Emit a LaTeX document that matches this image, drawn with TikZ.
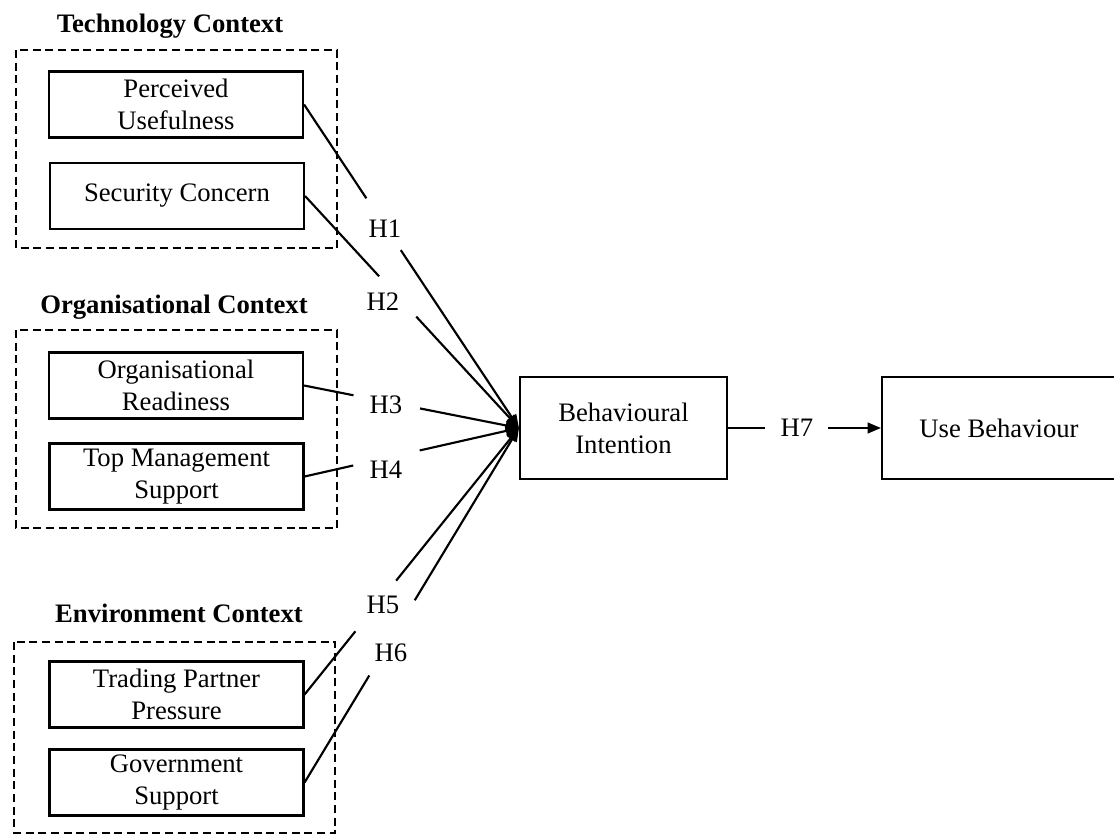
\documentclass[tikz,border=0pt]{standalone}
\usepackage{fontspec}
\setmainfont{Liberation Serif}
\usetikzlibrary{arrows.meta,calc}
\begin{document}
\begin{tikzpicture}[x=0.75pt,y=-0.75pt,
  every node/.style={font=\fontsize{20}{24}\selectfont},
  box/.style={draw, line width=1.6pt, minimum width=190.5pt, minimum height=49.5pt, align=center, inner sep=0pt},
  bigbox/.style={draw, line width=1.6pt, minimum height=76.5pt, align=center, inner sep=0pt},
  group/.style={draw, line width=1.5pt, dash pattern=on 6pt off 3.5pt},
  grouptitle/.style={font=\fontsize{20}{24}\selectfont\bfseries, anchor=base, inner sep=0pt},
  hyp/.style={inner sep=0pt},
  link/.style={line width=1.6pt},
  arr/.style={line width=1.6pt, -{Triangle[length=10pt,width=8pt]}},
]
\useasboundingbox (0,0) rectangle (1114,839);

% group frames
\draw[group] (16,50) rectangle (337,248);
\draw[group] (16,330) rectangle (337,528);
\draw[group] (14,642) rectangle (335,833);

% group titles
\node[grouptitle] (tt) at (170,32) {Technology Context};
\node[grouptitle] (ot) at (174,313) {Organisational Context};
\node[grouptitle] (et) at (179,622) {Environment Context};

% construct boxes
\node[box] (pu)  at (176,104.5) {Perceived\\Usefulness};
\node[box] (sc)  at (177,196)   {Security Concern};
\node[box] (or)  at (176,385.5) {Organisational\\Readiness};
\node[box] (tm)  at (176.5,476.5) {Top Management\\Support};
\node[box] (tpp) at (176.5,694.5) {Trading Partner\\Pressure};
\node[box] (gs)  at (176.5,782.5) {Government\\Support};

\node[bigbox, minimum width=155.25pt] (bi) at (623.5,428) {Behavioural\\Intention};
\node[bigbox, minimum width=175.5pt] (ub) at (999,428) {Use Behaviour};

\coordinate (conv) at (bi.west);

% hypothesis labels
\node[hyp] (h1) at (385,228.5) {H1};
\node[hyp] (h2) at (383,302) {H2};
\node[hyp] (h3) at (386,405) {H3};
\node[hyp] (h4) at (386,470) {H4};
\node[hyp] (h5) at (383,605) {H5};
\node[hyp] (h6) at (391,653) {H6};
\node[hyp] (h7) at (797,428) {H7};

% gap end points
\coordinate (h1a) at ($(pu.east)!0.29!(conv)$);
\coordinate (h1b) at ($(pu.east)!0.45!(conv)$);
\coordinate (h2a) at ($(sc.east)!0.346!(conv)$);
\coordinate (h2b) at ($(sc.east)!0.52!(conv)$);
\coordinate (h3a) at ($(or.east)!0.23!(conv)$);
\coordinate (h3b) at ($(or.east)!0.54!(conv)$);
\coordinate (h4a) at ($(tm.east)!0.227!(conv)$);
\coordinate (h4b) at ($(tm.east)!0.537!(conv)$);
\coordinate (h5a) at ($(tpp.east)!0.237!(conv)$);
\coordinate (h5b) at ($(tpp.east)!0.427!(conv)$);
\coordinate (h6a) at ($(gs.east)!0.302!(conv)$);
\coordinate (h6b) at ($(gs.east)!0.514!(conv)$);
\coordinate (h7a) at (765,428);
\coordinate (h7b) at (828,428);

% connectors
\draw[link] (pu.east) -- (h1a);  \draw[arr] (h1b) -- (conv);
\draw[link] (sc.east) -- (h2a);  \draw[arr] (h2b) -- (conv);
\draw[link] (or.east) -- (h3a);  \draw[arr] (h3b) -- (conv);
\draw[link] (tm.east) -- (h4a);  \draw[arr] (h4b) -- (conv);
\draw[link] (tpp.east) -- (h5a); \draw[arr] (h5b) -- (conv);
\draw[link] (gs.east) -- (h6a);  \draw[arr] (h6b) -- (conv);
\draw[link] (bi.east) -- (h7a);  \draw[arr] (h7b) -- (ub.west);
\end{tikzpicture}
\end{document}
